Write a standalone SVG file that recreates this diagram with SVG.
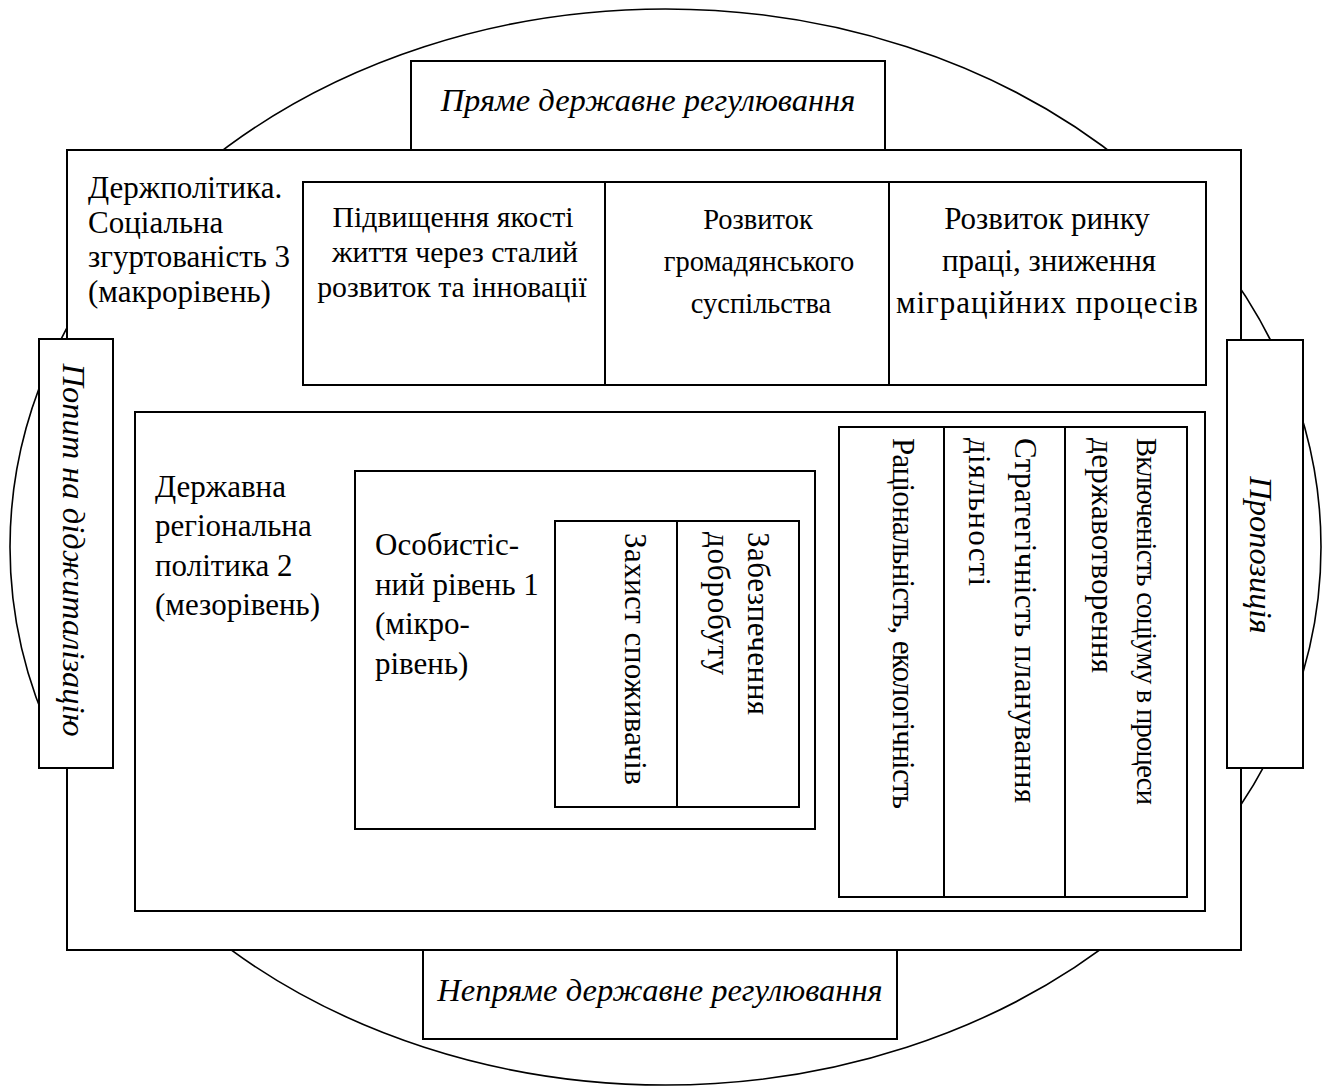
<svg xmlns="http://www.w3.org/2000/svg" width="1327" height="1086" viewBox="0 0 1327 1086">
<style>
  .box { fill: #fff; stroke: #000; stroke-width: 2; }
  .ln { stroke: #000; stroke-width: 2; fill: none; }
  .t { font-family: "Liberation Serif", "Times New Roman", serif; font-size: 31px; fill: #000; }
  .i { font-family: "Liberation Serif", "Times New Roman", serif; font-size: 32.5px; font-style: italic; fill: #000; }
  .m { text-anchor: middle; }
  .c1 { font-size: 29.8px; }
  .c2 { font-size: 28.5px; }
  .r { font-family: "Liberation Serif", "Times New Roman", serif; font-size: 31px; fill: #000; }
</style>
<rect width="1327" height="1086" fill="#fff"/>
<g id="connectors">
  <ellipse cx="665.5" cy="547" rx="655.5" ry="538" fill="none" stroke="#000" stroke-width="1.6"/>
</g>
<g id="outer">
  <rect class="box" x="67" y="150" width="1174" height="800"/>
  <text class="t" x="88"><tspan x="88" y="198">Держполітика.</tspan><tspan x="88" y="232.7">Соціальна</tspan><tspan x="88" y="267.4">згуртованість 3</tspan><tspan x="88" y="302">(макрорівень)</tspan></text>
</g>
<g id="direct">
  <rect class="box" x="411" y="61" width="474" height="89"/>
  <text class="i m" x="648" y="111">Пряме державне регулювання</text>
</g>
<g id="indirect">
  <rect class="box" x="423" y="950" width="474" height="89"/>
  <text class="i m" x="660" y="1001">Непряме державне регулювання</text>
</g>
<g id="demand">
  <rect class="box" x="39" y="339" width="74" height="429"/>
  <text class="i m" transform="translate(63,550) rotate(90)">Попит на діджиталізацію</text>
</g>
<g id="supply">
  <rect class="box" x="1227" y="340" width="76" height="428"/>
  <text class="i m" transform="translate(1250,555) rotate(90)">Пропозиція</text>
</g>
<g id="macro-goals">
  <rect class="box" x="303" y="182" width="903" height="203"/>
  <line class="ln" x1="605" y1="182" x2="605" y2="385"/>
  <line class="ln" x1="889" y1="182" x2="889" y2="385"/>
  <text class="t m c1"><tspan x="453" y="227">Підвищення якості</tspan><tspan x="455" y="262">життя через сталий</tspan><tspan x="452" y="297">розвиток та інновації</tspan></text>
  <text class="t m c2"><tspan x="758" y="229">Розвиток</tspan><tspan x="759" y="271">громадянського</tspan><tspan x="761" y="313">суспільства</tspan></text>
  <text class="t m"><tspan x="1047" y="229">Розвиток ринку</tspan><tspan x="1049" y="271">праці, зниження</tspan><tspan x="1047" y="313" textLength="302" lengthAdjust="spacing">міграційних процесів</tspan></text>
</g>
<g id="meso">
  <rect class="box" x="135" y="412" width="1070" height="499"/>
  <text class="t"><tspan x="155" y="496.7">Державна</tspan><tspan x="155" y="536">регіональна</tspan><tspan x="155" y="575.5">політика 2</tspan><tspan x="155" y="615">(мезорівень)</tspan></text>
</g>
<g id="meso-goals">
  <rect class="box" x="839" y="427" width="348" height="470"/>
  <line class="ln" x1="944" y1="427" x2="944" y2="897"/>
  <line class="ln" x1="1065" y1="427" x2="1065" y2="897"/>
  <text class="r" transform="translate(893,438) rotate(90)"><tspan x="0" y="0" textLength="371" lengthAdjust="spacing">Раціональність, екологічність</tspan></text>
  <text class="r" transform="translate(1015,438) rotate(90)"><tspan x="0" y="0" textLength="365" lengthAdjust="spacing">Стратегічність планування</tspan><tspan x="0" y="46" textLength="148" lengthAdjust="spacing">діяльності</tspan></text>
  <text class="r" transform="translate(1137,438) rotate(90)"><tspan x="0" y="0" font-size="28.5" textLength="367" lengthAdjust="spacing">Включеність соціуму в процеси</tspan><tspan x="0" y="45" textLength="235" lengthAdjust="spacing">державотворення</tspan></text>
</g>
<g id="micro">
  <rect class="box" x="355" y="471" width="460" height="358"/>
  <text class="t"><tspan x="375" y="555">Особистіс-</tspan><tspan x="375" y="594.5">ний рівень 1</tspan><tspan x="375" y="634">(мікро-</tspan><tspan x="375" y="673.5">рівень)</tspan></text>
</g>
<g id="micro-goals">
  <rect class="box" x="555" y="521" width="244" height="286"/>
  <line class="ln" x1="677" y1="521" x2="677" y2="807"/>
  <text class="r" transform="translate(625,533) rotate(90)"><tspan x="0" y="0" textLength="252" lengthAdjust="spacing">Захист споживачів</tspan></text>
  <text class="r" transform="translate(748,532) rotate(90)"><tspan x="0" y="0" textLength="183" lengthAdjust="spacing">Забезпечення</tspan><tspan x="0" y="40" textLength="143" lengthAdjust="spacing">добробуту</tspan></text>
</g>
</svg>
